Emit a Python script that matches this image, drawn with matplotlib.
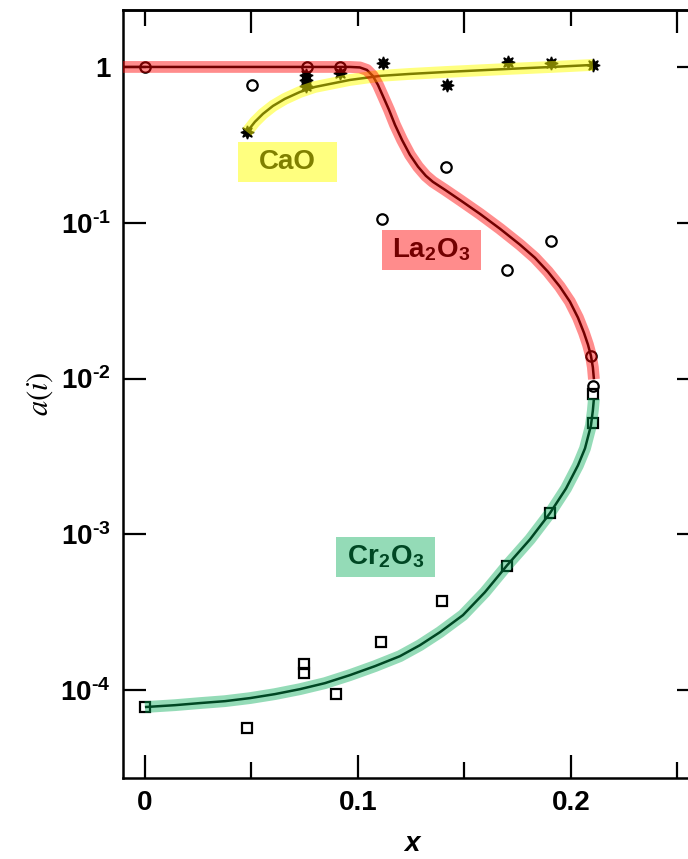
import numpy as np
import matplotlib.pyplot as plt
from matplotlib.patches import Rectangle

plt.rcParams['font.family'] = ['Liberation Sans', 'DejaVu Sans']
plt.rcParams['mathtext.fontset'] = 'stix'

# measured activities (symbols)
la_x = [0.0, 0.0502, 0.0760, 0.0915, 0.1113, 0.1413, 0.1700, 0.1906, 0.2094, 0.2103]
la_y = [1.0, 0.767, 1.0, 1.0, 0.106, 0.229, 0.050, 0.0767, 0.0140, 0.0089]

ca_x = [0.0479, 0.0756, 0.0756, 0.0756, 0.0915, 0.1117, 0.1418, 0.1704, 0.1906, 0.2103]
ca_y = [0.383, 0.89, 0.825, 0.755, 0.91, 1.06, 0.77, 1.08, 1.06, 1.03]

cr_x = [0.0, 0.0479, 0.0746, 0.0746, 0.0897, 0.1108, 0.1394, 0.1700, 0.1901, 0.2103, 0.2103]
cr_y = [7.8e-5, 5.7e-5, 1.47e-4, 1.29e-4, 9.4e-5, 2.03e-4, 3.72e-4, 6.3e-4, 1.38e-3, 5.2e-3, 7.9e-3]

# calculated curves
la_fit_x = [-0.02, 0.0962, 0.1009, 0.1042, 0.1070, 0.1094, 0.1117, 0.1146, 0.1174, 0.1207,
            0.1244, 0.1282, 0.1319, 0.1352, 0.1408, 0.1479, 0.1573, 0.1667, 0.1761, 0.1831,
            0.1892, 0.1948, 0.1995, 0.2033, 0.2061, 0.2080, 0.2094, 0.2103, 0.2108]
la_fit_y = [1.0, 1.0, 0.993, 0.957, 0.876, 0.767, 0.652, 0.530, 0.425, 0.340,
            0.273, 0.229, 0.200, 0.183, 0.163, 0.140, 0.114, 0.0915, 0.0723, 0.0596,
            0.0485, 0.0389, 0.0312, 0.0246, 0.0197, 0.0165, 0.0140, 0.0118, 0.0099]

ca_fit_x = [0.0479, 0.0516, 0.0554, 0.0601, 0.0657, 0.0728, 0.0798, 0.0869, 0.0962, 0.1103,
            0.1244, 0.1418, 0.1704, 0.1911, 0.2103]
ca_fit_y = [0.383, 0.444, 0.500, 0.562, 0.624, 0.691, 0.744, 0.778, 0.825, 0.876,
            0.902, 0.929, 0.971, 1.0, 1.03]

cr_fit_x = [0.0, 0.0141, 0.0258, 0.0376, 0.0493, 0.0610, 0.0728, 0.0845, 0.0962, 0.1080,
            0.1197, 0.1291, 0.1385, 0.1493, 0.1596, 0.1700, 0.1808, 0.1901, 0.1977, 0.2033,
            0.2066, 0.2094, 0.2103, 0.2108]
cr_fit_y = [7.79e-5, 8.01e-5, 8.26e-5, 8.50e-5, 8.89e-5, 9.43e-5, 1.015e-4, 1.109e-4, 1.248e-4, 1.426e-4,
            1.652e-4, 1.943e-4, 2.355e-4, 3.03e-4, 4.25e-4, 6.32e-4, 9.29e-4, 1.364e-3, 1.97e-3, 2.77e-3,
            3.56e-3, 5.0e-3, 6.24e-3, 7.45e-3]

labels = ['CaO', r'La$_\mathregular{2}$O$_\mathregular{3}$', r'Cr$_\mathregular{2}$O$_\mathregular{3}$']
label_x = [0.0669, 0.1347, 0.1131]
label_y = [0.246, 0.0672, 7.12e-4]
band_colors = ['#FFFF00', '#FF0000', '#00AA55']
band_alpha = [0.5, 0.45, 0.42]

yticks = [1, 1e-1, 1e-2, 1e-3, 1e-4]
ytick_labels = ['1'] + ['$\\mathregular{10^{\u2010%d}}$' % k for k in range(1, 5)]

fig = plt.figure(figsize=(6.88, 8.59), dpi=100)
ax = fig.add_axes([123/688, 81/859, 577/688, 768/859])
ax.set_yscale('log')
ax.set_xlim(-0.0103, 0.2606)
ax.set_ylim(2.73e-5, 2.32)

# symbols first, the fit bands are laid over them
ax.plot(la_x, la_y, 'o', ls='none', mfc='none', mec='k', ms=7.5, mew=1.6, zorder=2)
ax.plot(cr_x, cr_y, 's', ls='none', mfc='none', mec='k', ms=7.5, mew=1.6, zorder=2)
ax.plot(ca_x, ca_y, marker=(8, 1, 0), ls='none', color='k', ms=9.5, zorder=2)

fits = [(ca_fit_x, ca_fit_y), (la_fit_x, la_fit_y), (cr_fit_x, cr_fit_y)]
for (fx, fy), c, a in zip(fits, band_colors, band_alpha):
    ax.plot(fx, fy, color='k', lw=1.8, zorder=3, solid_capstyle='butt',
            solid_joinstyle='round')
    ax.plot(fx, fy, color=c, alpha=a, lw=8.5, zorder=4, solid_capstyle='butt',
            solid_joinstyle='round')

# labels in coloured boxes
aw, ah = 577.0, 768.0
for txt, lx, ly, c, a in zip(labels, label_x, label_y, band_colors, band_alpha):
    cx, cy = ax.transAxes.inverted().transform(ax.transData.transform((lx, ly)))
    ax.text(cx, cy, txt, transform=ax.transAxes, ha='center', va='center',
            fontsize=20, fontweight='bold', color='k', zorder=5)
    ax.add_patch(Rectangle((cx - 49.5/aw, cy - 20/ah), 99/aw, 40/ah, transform=ax.transAxes,
                           facecolor=c, alpha=a, edgecolor='none', zorder=6))

ax.set_yticks(yticks)
ax.set_yticklabels(ytick_labels)
ax.yaxis.set_minor_locator(plt.NullLocator())
ax.set_xticks([0, 0.1, 0.2])
ax.set_xticklabels(['0', '0.1', '0.2'])
ax.set_xticks([0.05, 0.15, 0.25], minor=True)

ax.tick_params(which='both', direction='in', width=1.6, labelsize=20, top=False, right=True)
ax.tick_params(which='major', length=16.5, pad=9)
ax.tick_params(which='minor', length=11.5)
for lab in ax.get_xticklabels() + ax.get_yticklabels():
    lab.set_fontweight('bold')

top = ax.secondary_xaxis('top')
top.set_xticks([0.05, 0.15, 0.25])
top.set_xticks([0, 0.1, 0.2], minor=True)
top.tick_params(which='both', direction='in', width=1.6, labeltop=False)
top.tick_params(which='major', length=16.5)
top.tick_params(which='minor', length=11.5)

for sp in list(ax.spines.values()) + list(top.spines.values()):
    sp.set_linewidth(1.8)

ax.set_xlabel('x', fontsize=20, fontweight='bold', fontstyle='italic', labelpad=10.5)
ax.set_ylabel(r'$a(i)$', fontsize=22, labelpad=4)

fig.savefig('out.png', dpi=100)
